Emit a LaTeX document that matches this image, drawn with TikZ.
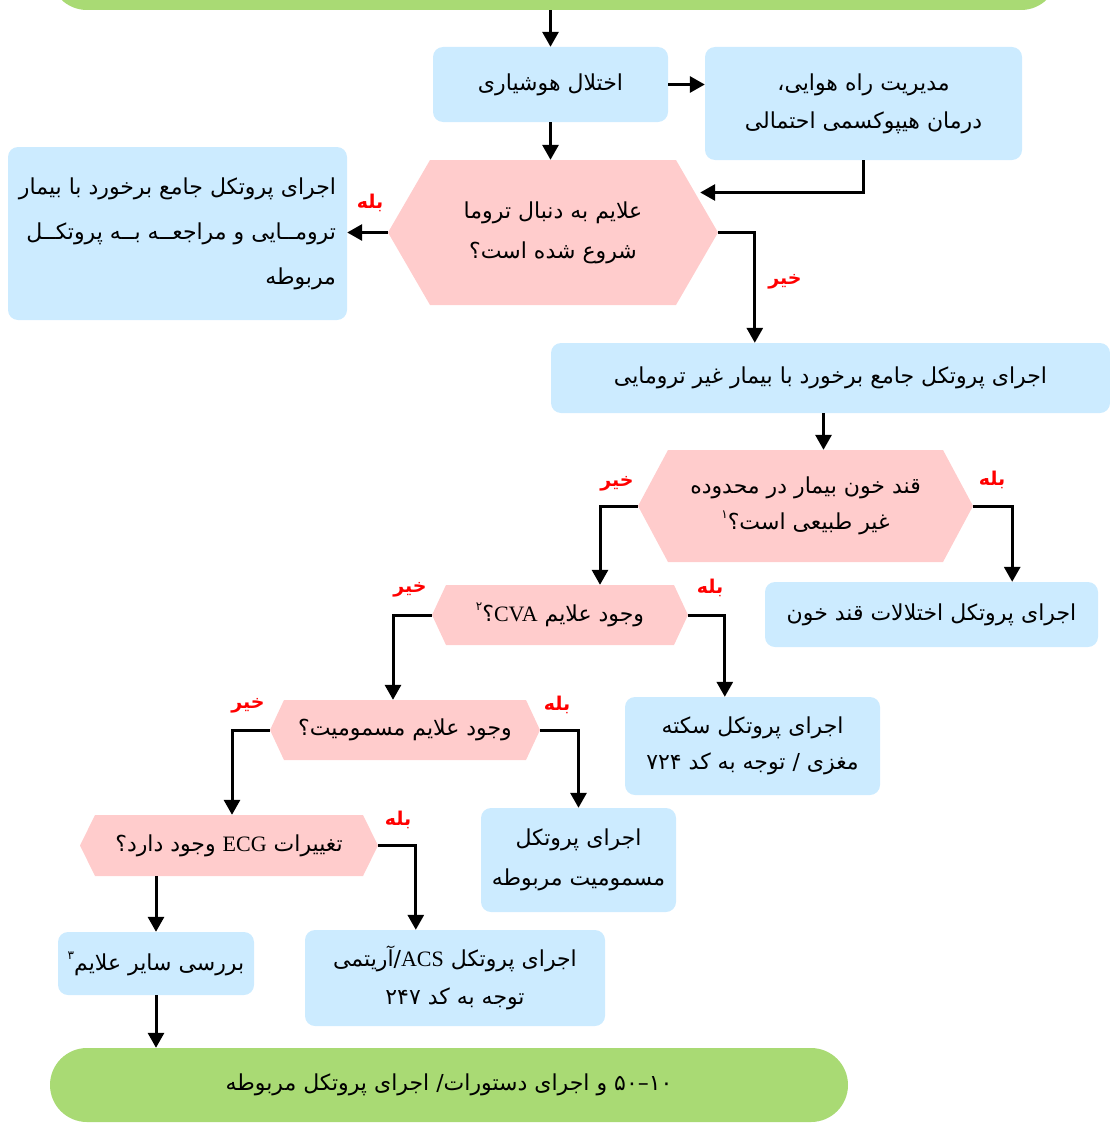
\documentclass[tikz,border=0pt]{standalone}
\usepackage{fontspec}
\usetikzlibrary{arrows.meta,calc}
\TeXXeTstate=1
\newfontfamily\fa[Script=Arabic]{DejaVu Sans}
\newfontfamily\lat{Liberation Serif}
\newcommand\R[1]{\beginR #1\endR}
\newcommand\Lt[1]{\beginL{\lat #1}\endL}
\newcommand\sups[1]{\raisebox{0.5em}{\fontsize{12}{12}\selectfont #1}}
\definecolor{boxblue}{RGB}{204,235,255}
\definecolor{hexpink}{RGB}{255,204,204}
\definecolor{termgreen}{RGB}{169,218,116}
\tikzset{
  txt/.style={font=\fa\fontsize{22}{38}\selectfont, align=center, inner sep=0pt},
  bx/.style={txt, rectangle, rounded corners=10pt, fill=boxblue},
  term/.style={txt, rectangle, rounded corners=37pt, fill=termgreen},
  hexa/.style={txt, rectangle, path picture={
    \fill[hexpink] (path picture bounding box.west)
      -- ([xshift=#1]path picture bounding box.north west)
      -- ([xshift=-#1]path picture bounding box.north east)
      -- (path picture bounding box.east)
      -- ([xshift=-#1]path picture bounding box.south east)
      -- ([xshift=#1]path picture bounding box.south west) -- cycle;}},
  arr/.style={line width=3pt, -{Triangle[length=15pt,width=16pt]}},
  lbl/.style={text=red, font=\fa\bfseries\fontsize{19}{19}\selectfont, inner sep=0pt}
}
\begin{document}
\begin{tikzpicture}[x=1pt,y=-1pt]
\useasboundingbox (0,0) rectangle (1110,1124);
\clip (0,0) rectangle (1110,1124);
% nodes
\node[term, minimum width=1008pt, minimum height=80pt] (top) at (554,-30) {};
\node[bx, minimum width=235pt, minimum height=75pt] (b1) at (550.5,84.5) {\R{اختلال هوشیاری}};
\node[bx, minimum width=317pt, minimum height=113pt] (b2) at (863.5,103.5) {\R{مدیریت راه هوایی،}\\\R{درمان هیپوکسمی احتمالی}};
\node[hexa=42pt, minimum width=330pt, minimum height=145pt, font=\fa\fontsize{22}{40}\selectfont] (h1) at (553,232.5) {\R{علایم به دنبال تروما}\\\R{شروع شده است؟}};
\node[bx, minimum width=339pt, minimum height=173pt, align=right, font=\fa\fontsize{22}{45}\selectfont] (L1) at (177.5,233.5) {\R{اجرای پروتکل جامع برخورد با بیمار}\\\R{ترومــایی و مراجعــه بــه پروتکــل}\\\R{مربوطه}};
\node[bx, minimum width=559pt, minimum height=70pt] (b3) at (830.5,378) {\R{اجرای پروتکل جامع برخورد با بیمار غیر ترومایی}};
\node[hexa=30pt, minimum width=335pt, minimum height=112pt, font=\fa\fontsize{22}{36}\selectfont] (h2) at (805.5,506) {\R{قند خون بیمار در محدوده}\\\R{غیر طبیعی است؟\sups{۱}}};
\node[bx, minimum width=333pt, minimum height=65pt] (b4) at (931.5,614.5) {\R{اجرای پروتکل اختلالات قند خون}};
\node[hexa=14pt, minimum width=256pt, minimum height=60pt] (h3) at (560,615) {\R{وجود علایم \Lt{CVA}؟\sups{۲}}};
\node[bx, minimum width=255pt, minimum height=98pt, font=\fa\fontsize{22}{36}\selectfont] (b5) at (752.5,746) {\R{اجرای پروتکل سکته}\\\R{مغزی / توجه به کد ۷۲۴}};
\node[hexa=14pt, minimum width=270pt, minimum height=60pt] (h4) at (405,730) {\R{وجود علایم مسمومیت؟}};
\node[bx, minimum width=195pt, minimum height=104pt, font=\fa\fontsize{22}{40}\selectfont] (b6) at (578.5,860) {\R{اجرای پروتکل}\\\R{مسمومیت مربوطه}};
\node[hexa=15pt, minimum width=298pt, minimum height=61pt] (h5) at (229,845.5) {\R{تغییرات \Lt{ECG} وجود دارد؟}};
\node[bx, minimum width=300pt, minimum height=96pt] (b7) at (455,978) {\R{اجرای پروتکل \Lt{ACS}/آریتمی}\\\R{توجه به کد ۲۴۷}};
\node[bx, minimum width=196pt, minimum height=63pt] (b8) at (156,963.5) {\R{بررسی سایر علایم\sups{۳}}};
\node[term, minimum width=798pt, minimum height=74pt] (bot) at (449,1085) {\R{\beginL ۱۰–۵۰\endL{} و اجرای دستورات/ اجرای پروتکل مربوطه}};
% connectors
\draw[arr] (top.south -| b1.north) -- (b1.north);
\draw[arr] (b1.east) -- (b1.east -| b2.west);
\draw[arr] (b1.south) -- (b1.south |- h1.north);
\draw[arr] (b2.south) |- ($(h1.east)+(-18,-40)$);
\draw[arr] (h1.west) -- (h1.west -| L1.east);
\draw[arr] (h1.east) -| ($(b3.north west)+(204,0)$);
\draw[arr] ($(b3.south)+(-7,0)$) coordinate (p) -- (p |- h2.north);
\draw[arr] (h2.east) -| ($(b4.north east)+(-86,0)$);
\draw[arr] (h2.west) -| ($(h3.north)+(40,0)$);
\draw[arr] (h3.east) -| ($(b5.north west)+(100,0)$);
\draw[arr] (h3.west) -| ($(h4.north)+(-12,0)$);
\draw[arr] (h4.east) -| (b6.north);
\draw[arr] (h4.west) -| ($(h5.north)+(3,0)$);
\draw[arr] (h5.east) -| ($(b7.north west)+(111,0)$);
\draw[arr] (b8.north |- h5.south) -- (b8.north);
\draw[arr] (b8.south) -- (b8.south |- bot.north);
% labels
\node[lbl] (y1) at (370,203) {\R{بله}};
\node[lbl] (n1) at (785,282) {\R{خیر}};
\node[lbl] (y2) at (992,480) {\R{بله}};
\node[lbl] (n2) at (617,484) {\R{خیر}};
\node[lbl] (y3) at (710,588) {\R{بله}};
\node[lbl] (n3) at (410,590) {\R{خیر}};
\node[lbl] (y4) at (557,705) {\R{بله}};
\node[lbl] (n4) at (248,706) {\R{خیر}};
\node[lbl] (y5) at (398,820) {\R{بله}};
\end{tikzpicture}
\end{document}
